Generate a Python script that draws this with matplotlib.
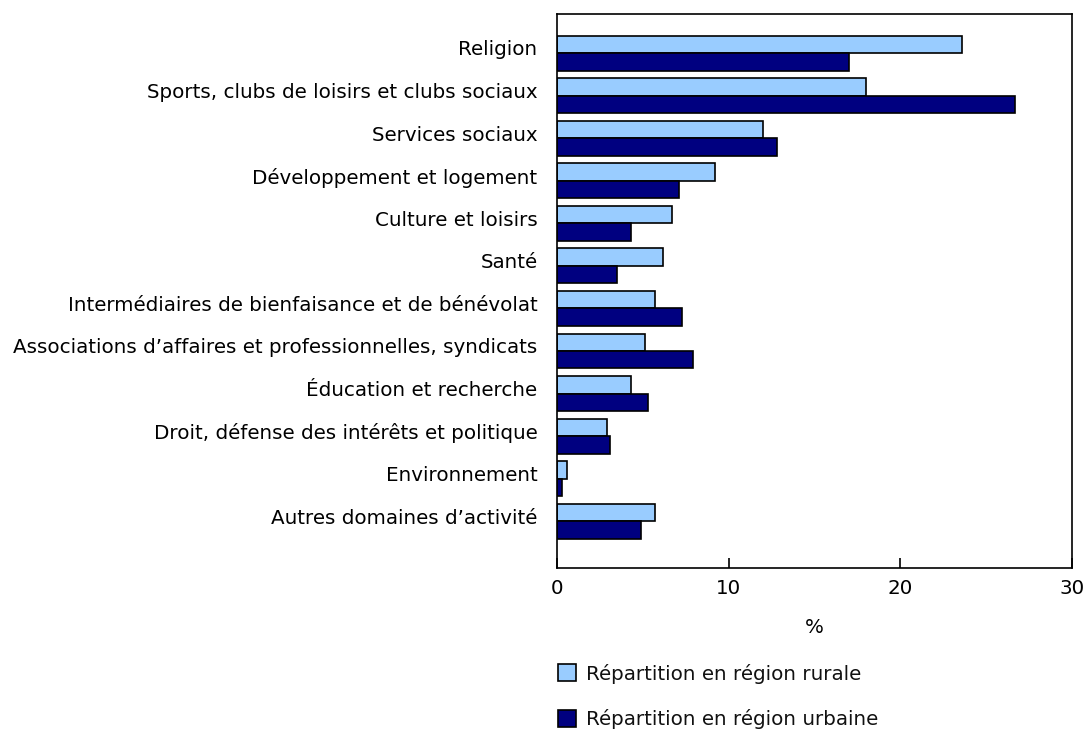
import numpy as np
import matplotlib
matplotlib.use("Agg")
import matplotlib.pyplot as plt
from matplotlib.patches import Patch

categories = [
    "Religion",
    "Sports, clubs de loisirs et clubs sociaux",
    "Services sociaux",
    "Développement et logement",
    "Culture et loisirs",
    "Santé",
    "Intermédiaires de bienfaisance et de bénévolat",
    "Associations d\u2019affaires et professionnelles, syndicats",
    "Éducation et recherche",
    "Droit, défense des intérêts et politique",
    "Environnement",
    "Autres domaines d\u2019activité",
]
rural = [23.6, 18.0, 12.0, 9.2, 6.7, 6.2, 5.7, 5.1, 4.3, 2.9, 0.6, 5.7]
urban = [17.0, 26.7, 12.8, 7.1, 4.3, 3.5, 7.3, 7.9, 5.3, 3.1, 0.3, 4.9]
series_labels = ["Répartition en région rurale", "Répartition en région urbaine"]
colors = ["#99CCFF", "#000080"]

plt.rcParams["font.family"] = ["DejaVu Sans"]
plt.rcParams["font.size"] = 14.3
plt.rcParams["text.color"] = "#111111"

fig = plt.figure(figsize=(10.87, 7.34), dpi=100)
ax = fig.add_axes([0.5124, 0.2262, 0.4738, 0.7548])

y = np.arange(len(categories))
h = 0.41
ax.barh(y - h / 2, rural, height=h, color=colors[0], edgecolor="black", linewidth=1.2)
ax.barh(y + h / 2, urban, height=h, color=colors[1], edgecolor="black", linewidth=1.2)

ax.set_xlim(0, 30)
ax.set_ylim(len(categories) - 1 + 1.1, -0.92)
ax.set_xticks([0, 10, 20, 30])
ax.tick_params(axis="x", direction="in", length=7, width=1.2, pad=8)
ax.set_yticks(y - 0.12)
ax.set_yticklabels(categories)
ax.tick_params(axis="y", length=0, pad=14)
for s in ax.spines.values():
    s.set_linewidth(1.2)
ax.set_xlabel("%", labelpad=14)

# legend below the plot, stacked
handles = [Patch(facecolor=c, edgecolor="black", linewidth=1.2) for c in colors]
fig.legend(handles, series_labels, loc="upper left", bbox_to_anchor=(0.513, 0.096),
           frameon=False, handlelength=0.95, handleheight=0.95, handletextpad=0.5,
           labelspacing=1.3, borderaxespad=0, borderpad=0)

fig.savefig("out.png", dpi=100)
